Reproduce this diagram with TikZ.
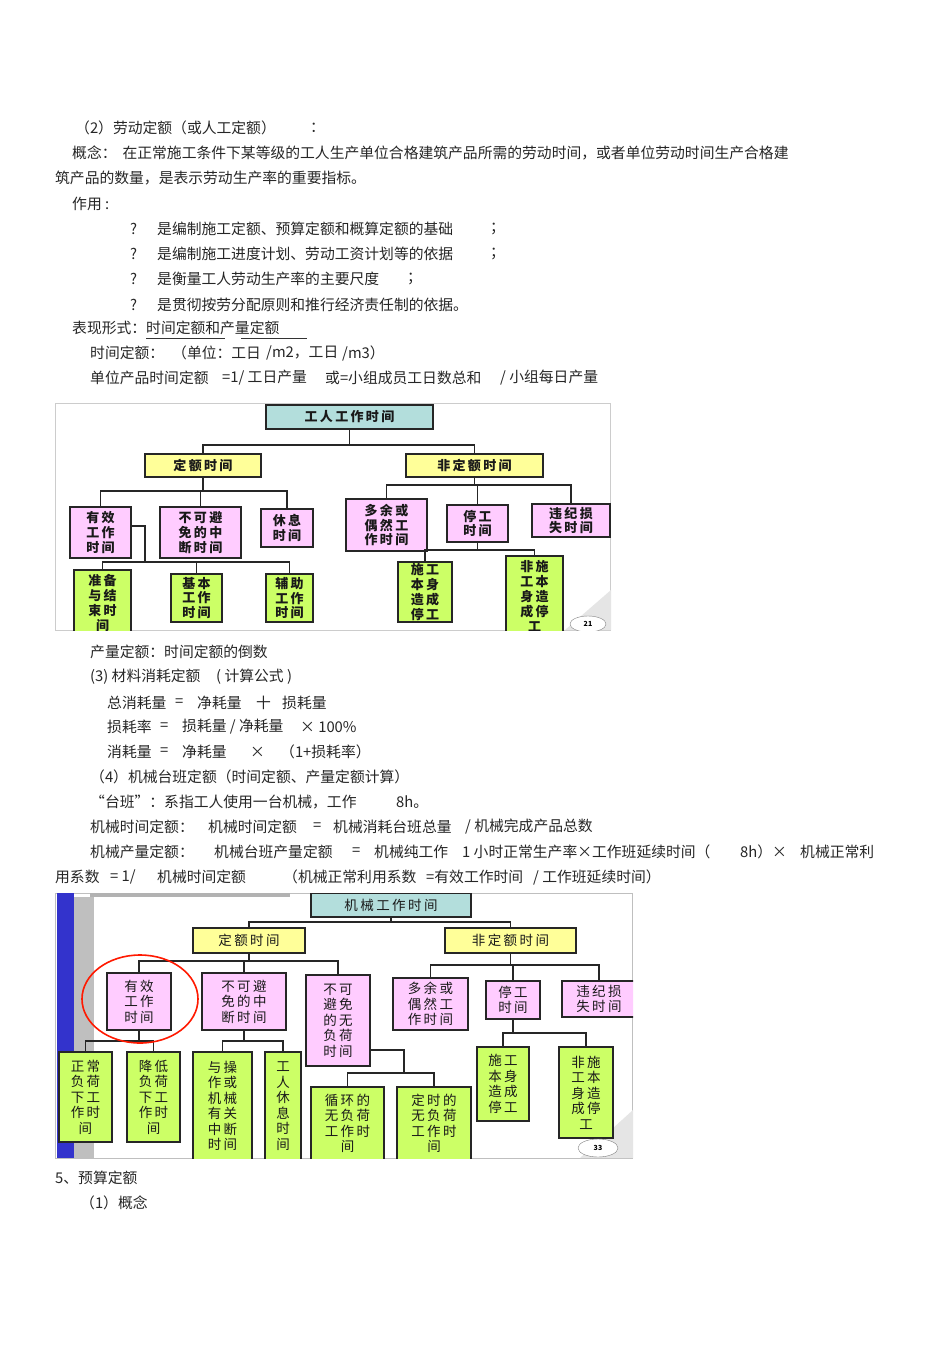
\documentclass[tikz,border=0pt]{standalone}
\usepackage{fontspec}
\usetikzlibrary{shapes.geometric}
\setmainfont{Noto Sans CJK SC}
\newfontfamily\dgf[LetterSpace=18]{Noto Sans CJK SC}
\begin{document}
\begin{tikzpicture}[x=1pt,y=-1pt,
  tx/.style={anchor=west,inner sep=0pt,font=\fontsize{14.8}{16}\selectfont,text=black!85},
  bx/.style={draw=black!85,line width=1.3pt,inner sep=0pt,align=center,text=black!90,
    font=\dgf\bfseries\fontsize{13}{14.8}\selectfont},
  bm/.style={bx,font=\dgf\mdseries\fontsize{13.5}{15.5}\selectfont},
  cn/.style={draw=black!85,line width=1.2pt}]
\definecolor{pk}{HTML}{FFCCFF}
\definecolor{yl}{HTML}{FFFF99}
\definecolor{gr}{HTML}{CCFF66}
\definecolor{cy}{HTML}{B3DEDC}
\newcommand\bxx[7]{\node[bx,fill=#6,minimum width={#4pt-#2pt},minimum height={#5pt-#3pt}] (#1) at ({(#2+#4)/2},{(#3+#5)/2}) {#7};}
\newcommand\bxm[7]{\node[bm,fill=#6,minimum width={#4pt-#2pt},minimum height={#5pt-#3pt}] (#1) at ({(#2+#4)/2},{(#3+#5)/2}) {#7};}
\useasboundingbox (0,0) rectangle (950,1345);
\fill[white] (0,0) rectangle (950,1345);
% ---------------- text ----------------
\node[tx] (l1) at (75,128) {（2）劳动定额（或人工定额）};
\node[tx] (l1b) at (310,128) {：};
\node[tx] (l2) at (72,153) {概念：\hspace{6pt}在正常施工条件下某等级的工人生产单位合格建筑产品所需的劳动时间，或者单位劳动时间生产合格建};
\node[tx] (l3) at (55,178) {筑产品的数量，是表示劳动生产率的重要指标。};
\node[tx] (l4) at (72,204) {作用 :};
\node[tx] (q1) at (130,229) {?}; \node[tx] (q1t) at (157,229) {是编制施工定额、预算定额和概算定额的基础}; \node[tx] (q1s) at (490,229) {；};
\node[tx] (q2) at (130,254) {?}; \node[tx] (q2t) at (157,254) {是编制施工进度计划、劳动工资计划等的依据}; \node[tx] (q2s) at (490,254) {；};
\node[tx] (q3) at (130,279) {?}; \node[tx] (q3t) at (157,279) {是衡量工人劳动生产率的主要尺度}; \node[tx] (q3s) at (407,279) {；};
\node[tx] (q4) at (130,305) {?}; \node[tx] (q4t) at (157,305) {是贯彻按劳分配原则和推行经济责任制的依据。};
\node[tx] (l5) at (72,328) {表现形式：时间定额和产量定额};
\draw[black!80,line width=0.6pt] (146,338) -- (225,338) (241,338) -- (307,338);
\node[tx] (l6a) at (90,353) {时间定额：}; \node[tx] (l6b) at (172,353) {（单位：工日}; \node[tx] (l6c) at (266,353) {/m2，工日}; \node[tx] (l6d) at (342,353) {/m3）};
\node[tx] (l7a) at (90,378) {单位产品时间定额}; \node[tx] (l7b) at (222,378) {=1/ 工日产量}; \node[tx] (l7c) at (325,378) {或=小组成员工日数总和}; \node[tx] (l7d) at (500,378) {/ 小组每日产量};
\node[tx] (l8) at (90,652) {产量定额：时间定额的倒数};
\node[tx] (l9a) at (90,677) {(3) 材料消耗定额}; \node[tx] (l9b) at (216,677) {( 计算公式 )};
\node[tx] (m1a) at (107,703) {总消耗量}; \node[tx] (m1b) at (175,703) {=}; \node[tx] (m1c) at (197,703) {净耗量}; \node[tx] (m1d) at (256,703) {十}; \node[tx] (m1e) at (282,703) {损耗量};
\node[tx] (m2a) at (107,727) {损耗率}; \node[tx] (m2b) at (160,727) {=}; \node[tx] (m2c) at (182,727) {损耗量 / 净耗量}; \node[tx] (m2d) at (300,727) {× 100\%};
\node[tx] (m3a) at (107,752) {消耗量}; \node[tx] (m3b) at (160,752) {=}; \node[tx] (m3c) at (182,752) {净耗量}; \node[tx] (m3d) at (250,752) {×}; \node[tx] (m3e) at (280,752) {（1+损耗率）};
\node[tx] (n1) at (90,777) {（4）机械台班定额（时间定额、产量定额计算）};
\node[tx] (n2a) at (90,802) {“台班”：系指工人使用一台机械，工作}; \node[tx] (n2b) at (396,802) {8h。};
\node[tx] (n3a) at (90,827) {机械时间定额：}; \node[tx] (n3b) at (208,827) {机械时间定额}; \node[tx] (n3c) at (313,827) {=}; \node[tx] (n3d) at (333,827) {机械消耗台班总量}; \node[tx] (n3e) at (465,827) {/ 机械完成产品总数};
\node[tx] (n4a) at (90,852) {机械产量定额：}; \node[tx] (n4b) at (214,852) {机械台班产量定额}; \node[tx] (n4c) at (352,852) {=}; \node[tx] (n4d) at (374,852) {机械纯工作}; \node[tx] (n4e) at (462,852) {1 小时正常生产率×工作班延续时间（}; \node[tx] (n4f) at (740,852) {8h）×}; \node[tx] (n4g) at (800,852) {机械正常利};
\node[tx] (n5a) at (55,877) {用系数}; \node[tx] (n5b) at (110,877) {= 1/}; \node[tx] (n5c) at (157,877) {机械时间定额}; \node[tx] (n5d) at (283,877) {（机械正常利用系数}; \node[tx] (n5e) at (426,877) {=有效工作时间}; \node[tx] (n5f) at (533,877) {/ 工作班延续时间）};
\node[tx] (p1) at (55,1178) {5、预算定额};
\node[tx] (p2) at (80,1203) {（1）概念};
% ---------------- diagram 1 ----------------
\begin{scope}
\clip (55,403) rectangle (611,630);
\draw[black!20,fill=white] (55.5,403.5) rectangle (610.5,630);
\fill[black!10] (565,630) -- (611,590) -- (611,630) -- cycle;
\bxx{t1}{266}{405}{433}{429}{cy}{工人工作时间}
\bxx{a1}{145}{454}{261}{477}{yl}{定额时间}
\bxx{a2}{406}{454}{543}{477}{yl}{非定额时间}
\bxx{b1}{70}{507}{131}{558}{pk}{有效\\工作\\时间}
\bxx{b2}{160}{507}{241}{558}{pk}{不可避\\免的中\\断时间}
\bxx{b3}{261}{509}{313}{547}{pk}{休息\\时间}
\bxx{b4}{346}{499}{427}{551}{pk}{多余或\\偶然工\\作时间}
\bxx{b5}{447}{505}{508}{542}{pk}{停工\\时间}
\bxx{b6}{532}{504}{610}{537}{pk}{违纪损\\失时间}
\bxx{c1}{74}{570}{131}{636}{gr}{准备\\与结\\束时\\间}
\bxx{c2}{171}{574}{222}{622}{gr}{基本\\工作\\时间}
\bxx{c3}{266}{574}{313}{622}{gr}{辅助\\工作\\时间}
\bxx{c4}{398}{562}{452}{622}{gr}{施工\\本身\\造成\\停工}
\bxx{c5}{506}{556}{563}{636}{gr}{非施\\工本\\身造\\成停\\工}
\coordinate (y1) at (0,445); \coordinate (y2) at (0,491); \coordinate (y3) at (0,485);
\coordinate (y4) at (0,562); \coordinate (y5) at (0,550); \coordinate (k1) at (145,526);
\draw[cn] (t1.south) -- (t1.south|-y1);
\draw[cn] (a1.north) -- (a1.north|-y1) -- (a2.north|-y1) -- (a2.north);
\draw[cn] (a1.south) -- (a1.south|-y2);
\draw[cn] (b1.north) -- (b1.north|-y2) -- (b3.north|-y2) -- (b3.north);
\draw[cn] (b2.north) -- (b2.north|-y2);
\draw[cn] (a2.south) -- (a2.south|-y3);
\draw[cn] (b4.north) -- (b4.north|-y3) -- (b6.north|-y3) -- (b6.north);
\draw[cn] (b5.north) -- (b5.north|-y3);
\draw[cn] (b1.east|-k1) -- (k1) -- (k1|-y4);
\draw[cn] (c1.north) -- (c1.north|-y4) -- (c3.north|-y4) -- (c3.north);
\draw[cn] (c2.north) -- (c2.north|-y4);
\draw[cn] (b5.south) -- (b5.south|-y5);
\draw[cn] (c4.north) -- (c4.north|-y5) -- (c5.north|-y5) -- (c5.north);
\node[draw=black!50,fill=white,ellipse,minimum width=36pt,minimum height=16pt,inner sep=0pt,
  font=\bfseries\fontsize{7}{8}\selectfont] (pg1) at (588,624) {21};
\end{scope}
% ---------------- diagram 2 ----------------
\begin{scope}
\clip (55,893) rectangle (633,1158);
\draw[black!25,fill=white] (55.5,893.5) rectangle (632.5,1158);
\fill[blue!75!black!80] (57,893) rectangle (74,1158);
\fill[black!25] (74,897) rectangle (94,1158);
\fill[black!30] (90,893) rectangle (290,897);
\fill[black!10] (580,1158) -- (633,1110) -- (633,1158) -- cycle;
\bxm{T}{311}{893}{471}{917}{cy}{机械工作时间}
\bxm{A1}{193}{928}{305}{953}{yl}{定额时间}
\bxm{A2}{445}{928}{576}{953}{yl}{非定额时间}
\bxm{B1}{107}{973}{171}{1030}{pk}{有效\\工作\\时间}
\bxm{B2}{202}{973}{286}{1030}{pk}{不可避\\免的中\\断时间}
\bxm{B3}{306}{975}{370}{1066}{pk}{不可\\避免\\的无\\负荷\\时间}
\bxm{B4}{393}{978}{468}{1030}{pk}{多余或\\偶然工\\作时间}
\bxm{B5}{486}{981}{540}{1019}{pk}{停工\\时间}
\bxm{B6}{562}{981}{636}{1017}{pk}{违纪损\\失时间}
\bxm{C1}{59}{1052}{112}{1142}{gr}{正常\\负荷\\下工\\作时\\间}
\bxm{C2}{127}{1052}{180}{1142}{gr}{降低\\负荷\\下工\\作时\\间}
\bxm{C3}{193}{1052}{252}{1160}{gr}{与操\\作或\\机械\\有关\\中断\\时间}
\bxm{C4}{265}{1052}{301}{1160}{gr}{工\\人\\休\\息\\时\\间}
\bxm{C5}{311}{1087}{384}{1160}{gr}{循环的\\无负荷\\工作时\\间}
\bxm{C6}{397}{1087}{471}{1160}{gr}{定时的\\无负荷\\工作时\\间}
\bxm{C7}{477}{1047}{529}{1121}{gr}{施工\\本身\\造成\\停工}
\bxm{C8}{559}{1047}{613}{1138}{gr}{非施\\工本\\身造\\成停\\工}
\coordinate (z1) at (0,922); \coordinate (z2) at (0,961); \coordinate (z3) at (0,965);
\coordinate (z4) at (0,1041); \coordinate (z5) at (0,1073); \coordinate (z6) at (0,1033);
\coordinate (j1) at (404,1050);
\draw[cn] (T.south) -- (T.south|-z1);
\draw[cn] (A1.north) -- (A1.north|-z1) -- (A2.north|-z1) -- (A2.north);
\draw[cn] (A1.south) -- (A1.south|-z2);
\draw[cn] (B1.north) -- (B1.north|-z2) -- (B3.north|-z2) -- (B3.north);
\draw[cn] (B2.north) -- (B2.north|-z2);
\draw[cn] (A2.south) -- (A2.south|-z3);
\draw[cn] (B4.north) -- (B4.north|-z3) -- (B6.north|-z3) -- (B6.north);
\draw[cn] (B5.north) -- (B5.north|-z3);
\draw[cn] (B1.south) -- (B1.south|-z4);
\draw[cn] (C1.north) -- (C1.north|-z4) -- (C2.north|-z4) -- (C2.north);
\draw[cn] (B2.south) -- (B2.south|-z4);
\draw[cn] (C3.north) -- (C3.north|-z4) -- (C4.north|-z4) -- (C4.north);
\draw[cn] (B3.east|-j1) -- (j1) -- (j1|-z5);
\draw[cn] (C5.north) -- (C5.north|-z5) -- (C6.north|-z5) -- (C6.north);
\draw[cn] (B5.south) -- (B5.south|-z6);
\draw[cn] (C7.north) -- (C7.north|-z6) -- (C8.north|-z6) -- (C8.north);
\draw[red!80!orange,line width=1.6pt] (140,999) ellipse [x radius=58, y radius=44];
\node[draw=black!50,fill=white,ellipse,minimum width=40pt,minimum height=18pt,inner sep=0pt,
  font=\bfseries\fontsize{7}{8}\selectfont] (pg2) at (598,1148) {33};
\end{scope}
\end{tikzpicture}
\end{document}
